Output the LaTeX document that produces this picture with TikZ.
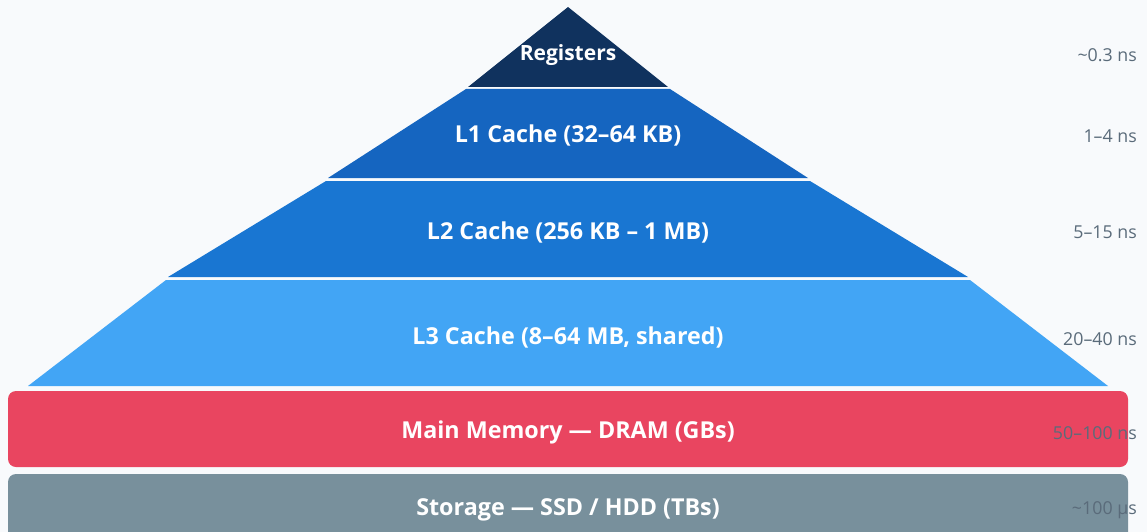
\documentclass[tikz,border=0pt]{standalone}
\usepackage{fontspec}
\setmainfont{Open Sans}
\definecolor{bgc}{HTML}{F8FAFC}
\definecolor{regc}{HTML}{10325E}
\definecolor{lonec}{HTML}{1565C0}
\definecolor{ltwoc}{HTML}{1976D2}
\definecolor{lthreec}{HTML}{42A5F5}
\definecolor{memc}{HTML}{E94560}
\definecolor{stoc}{HTML}{78909C}
\definecolor{latc}{HTML}{5A6B7A}
\begin{document}
\begin{tikzpicture}[x=1pt,y=-1pt,
  tier/.style={font=\bfseries\fontsize{23.3}{26}\selectfont, text=white, anchor=base, inner sep=0pt},
  lat/.style={font=\fontsize{17.8}{20}\selectfont, text=latc, anchor=base east, inner sep=0pt}]
\useasboundingbox (0,0) rectangle (1147,532);
\clip (0,0) rectangle (1147,532);
\fill[bgc] (0,0) rectangle (1147,532);
% pyramid tiers
\fill[regc] (568,7) -- (668,87) -- (468,87) -- cycle;
\fill[lonec] (466,89) -- (670,89) -- (808,178) -- (328,178) -- cycle;
\fill[ltwoc] (326,181) -- (810,181) -- (968,277) -- (168,277) -- cycle;
\fill[lthreec] (166,280) -- (970,280) -- (1108,386) -- (28,386) -- cycle;
% memory and storage bars
\fill[memc, rounded corners=8] (8,391) rectangle (1128,467);
\fill[stoc, rounded corners=8] (8,474) rectangle (1128,552);
% tier labels
\node[tier, font=\bfseries\fontsize{21}{24}\selectfont] (reg) at (568,61) {Registers};
\node[tier] (lone) at (568,142) {L1 Cache (32–64 KB)};
\node[tier] (ltwo) at (568,239) {L2 Cache (256 KB – 1 MB)};
\node[tier] (lthree) at (568,344) {L3 Cache (8–64 MB, shared)};
\node[tier] (mem) at (568,438) {Main Memory — DRAM (GBs)};
\node[tier] (sto) at (568,515) {Storage — SSD / HDD (TBs)};
% access latencies
\node[lat] (treg) at (1137,61.5) {\textasciitilde0.3 ns};
\node[lat] (tlone) at (1137,142) {1–4 ns};
\node[lat] (tltwo) at (1137,238.5) {5–15 ns};
\node[lat] (tlthree) at (1137,345) {20–40 ns};
\node[lat] (tmem) at (1137,439) {50–100 ns};
\node[lat] (tsto) at (1137,514) {\textasciitilde100 µs};
\end{tikzpicture}
\end{document}
